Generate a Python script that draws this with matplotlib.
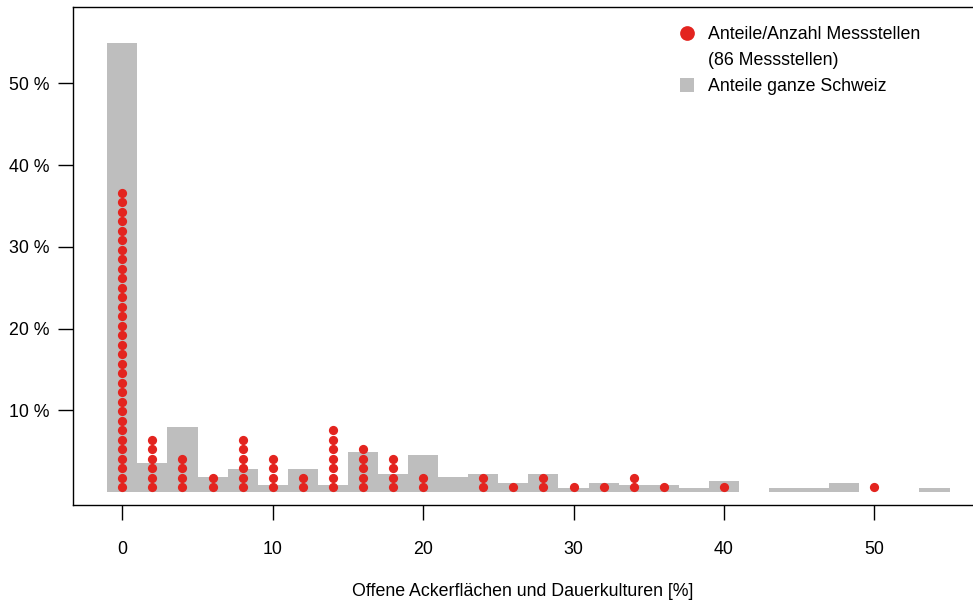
import matplotlib
matplotlib.use("Agg")
import matplotlib.pyplot as plt
from matplotlib.lines import Line2D
import numpy as np

plt.rcParams['font.family'] = ['Liberation Sans', 'DejaVu Sans']

# --- data ---
# share of whole Switzerland per 2%-class (class centre, share in %)
bar_centers = [0, 2, 4, 6, 8, 10, 12, 14, 16, 18, 20, 22, 24, 26,
               28, 30, 32, 34, 36, 38, 40, 42, 44, 46, 48, 50, 52, 54]
bar_shares = [55.0, 3.5, 7.9, 1.8, 2.8, 0.8, 2.8, 0.8, 4.9, 2.2, 4.5, 1.8, 2.2, 1.1,
              2.2, 0.45, 1.1, 0.8, 0.8, 0.45, 1.4, 0.0, 0.45, 0.45, 1.1, 0.0, 0.0, 0.45]

# number of monitoring sites per class
site_classes = [0, 2, 4, 6, 8, 10, 12, 14, 16, 18, 20, 24, 26, 28, 30, 32, 34, 36, 40, 50]
site_counts = [32, 6, 4, 2, 6, 4, 2, 7, 5, 4, 2, 2, 1, 2, 1, 1, 2, 1, 1, 1]
n_sites = 86

y_ticks = [10, 20, 30, 40, 50]
x_ticks = [0, 10, 20, 30, 40, 50]

RED = '#E3241F'
GRAY = '#BEBEBE'
FS = 12.8

fig = plt.figure(figsize=(9.73, 6.01), dpi=100)
ax = fig.add_axes([73.3 / 973, 96 / 601, 899.7 / 973, 498.3 / 601])

ax.bar(bar_centers, bar_shares, width=2.0, color=GRAY, linewidth=0, zorder=1)

# stack one dot per site, each dot = 1/86 of the sites
dot_x, dot_y = [], []
for xc, n in zip(site_classes, site_counts):
    k = np.arange(1, n + 1)
    dot_x.extend([xc] * n)
    dot_y.extend((k - 0.5) * 100.0 / n_sites)
ax.scatter(dot_x, dot_y, s=44, color=RED, linewidths=0, zorder=3)

ax.set_xlim(-3.26, 56.56)
ax.set_ylim(-1.59, 59.4)
ax.set_xticks(x_ticks)
ax.set_yticks(y_ticks)
ax.set_yticklabels([f"{t} %" for t in y_ticks])
ax.tick_params(axis='both', length=11, width=1.0, labelsize=FS, color='black')
ax.tick_params(axis='x', pad=15)
ax.tick_params(axis='y', pad=6)
ax.spines['right'].set_visible(False)
for s in ['top', 'left', 'bottom']:
    ax.spines[s].set_linewidth(1.0)

ax.set_xlabel("Offene Ackerflächen und Dauerkulturen [%]", fontsize=FS, labelpad=18)

handles = [
    Line2D([], [], linestyle='none', marker='o', markersize=10.6, color=RED, markeredgewidth=0),
    Line2D([], [], linestyle='none', marker=None),
    Line2D([], [], linestyle='none', marker='s', markersize=10, color=GRAY, markeredgewidth=0),
]
labels = ["Anteile/Anzahl Messstellen", "(86 Messstellen)", "Anteile ganze Schweiz"]
ax.legend(handles, labels, loc='upper left', bbox_to_anchor=(0.672, 0.961),
          frameon=False, fontsize=FS, handlelength=1.0, handletextpad=0.67,
          labelspacing=0.5, borderpad=0, borderaxespad=0)

fig.savefig("out.png", dpi=100)
